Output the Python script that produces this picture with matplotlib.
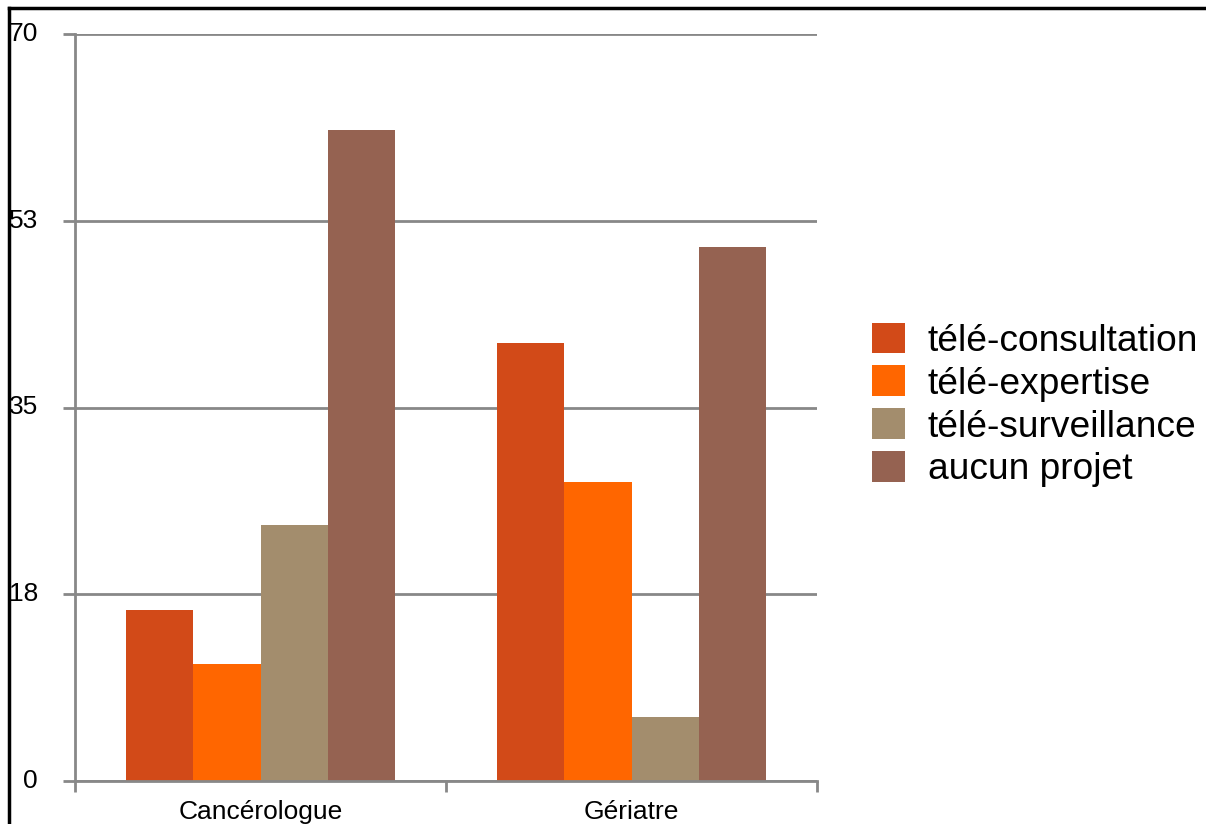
import numpy as np
import matplotlib.pyplot as plt
from matplotlib.lines import Line2D

categories=['Cancérologue','Gériatre']
series=['télé-consultation','télé-expertise','télé-surveillance','aucun projet']
consultation=[16,41]
expertise=[11,28]
surveillance=[24,6]
aucun=[61,50]
yticks=[0,17.5,35,52.5,70]
ytick_labels=['0','18','35','53','70']

colors=['#D24A18','#FF6600','#A38D6D','#956251']
values=[consultation,expertise,surveillance,aucun]

plt.rcParams['font.family']=['Liberation Sans','DejaVu Sans']

W,H=1206,824
fig=plt.figure(figsize=(W/100,H/100),dpi=100)
ax=fig.add_axes([75/W,(H-781)/H,(817-75)/W,(781-34)/H])

x=np.arange(len(categories))
bw=0.727/4
for i,(name,vals) in enumerate(zip(series,values)):
    ax.bar(x+(i-1.5)*bw,vals,bw,color=colors[i],label=name,zorder=3)

ax.set_xlim(-0.5,1.5)
ax.set_ylim(0,70)
ax.set_yticks(yticks)
ax.set_yticklabels([])
for y,lab in zip(yticks,ytick_labels):
    ax.text(38/W,ax.transData.transform((0,y))[1]/H,lab,transform=fig.transFigure,
            ha='right',va='center',fontsize=19)
ax.grid(axis='y',color='#888888',linewidth=2,zorder=1)
ax.set_xticks([-0.5,0.5,1.5])
ax.set_xticklabels([])
ax.set_xticks(x,minor=True)
ax.set_xticklabels(categories,minor=True,fontsize=19)
ax.tick_params(axis='x',which='minor',length=0,pad=14)
ax.tick_params(axis='x',which='major',length=8,width=2,color='#888888',direction='out')
ax.tick_params(axis='y',length=9,width=2,color='#888888',direction='out')
for s in ['top','right']:
    ax.spines[s].set_visible(False)
for s in ['left','bottom']:
    ax.spines[s].set_color('#888888')
    ax.spines[s].set_linewidth(2)
    ax.spines[s].set_zorder(4)

leg=fig.legend(loc='center left',bbox_to_anchor=(872/W,(H-405)/H),frameon=False,
               fontsize=26.7,handlelength=0.9,handleheight=0.9,handletextpad=0.6,
               labelspacing=0.18,borderaxespad=0,borderpad=0)

# cadre du graphique
fig.add_artist(Line2D([9/W,1],[1-7.5/H,1-7.5/H],transform=fig.transFigure,color='black',linewidth=2.5))
fig.add_artist(Line2D([9/W,9/W],[0,1-7.5/H],transform=fig.transFigure,color='black',linewidth=2.5))

fig.savefig('out.png',dpi=100)
